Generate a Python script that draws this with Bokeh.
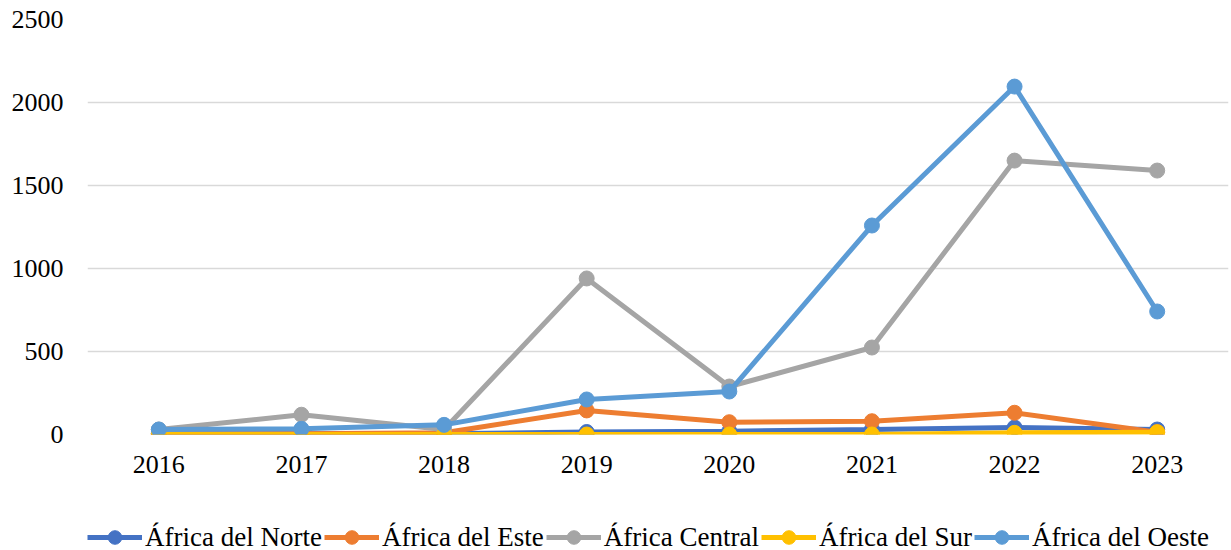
from bokeh.plotting import figure
from bokeh.layouts import column
from bokeh.models import Legend, LegendItem, FactorRange, Range1d, FixedTicker
from bokeh.embed import file_html
from bokeh.resources import INLINE

years = ["2016", "2017", "2018", "2019", "2020", "2021", "2022", "2023"]
norte = [5, 5, 5, 15, 20, 30, 42, 30]
este = [5, 5, 10, 145, 74, 80, 131, 14]
central = [30, 119, 30, 940, 289, 524, 1650, 1590]
sur = [0, 0, 0, 0, 0, 0, 10, 14]
oeste = [30, 34, 58, 211, 259, 1259, 2096, 741]
y_ticks = [0, 500, 1000, 1500, 2000, 2500]

series = [
    ("África del Norte", norte, "#4472C4"),
    ("África del Este", este, "#ED7D31"),
    ("África Central", central, "#A5A5A5"),
    ("África del Sur", sur, "#FFC000"),
    ("África del Oeste", oeste, "#5B9BD5"),
]

FONT = "Liberation Serif"

p = figure(width=1231, height=490, x_range=FactorRange(*years), y_range=Range1d(0, 2500),
           output_backend="svg", toolbar_location=None,
           min_border_left=87, min_border_right=3, min_border_top=19, min_border_bottom=56)
p.outline_line_color = None
p.xgrid.grid_line_color = None
p.ygrid.grid_line_color = "#D9D9D9"
p.ygrid.grid_line_width = 1.5
p.yaxis.ticker = FixedTicker(ticks=y_ticks)
for ax in (p.xaxis[0], p.yaxis[0]):
    ax.axis_line_color = None
    ax.major_tick_line_color = None
    ax.minor_tick_line_color = None
    ax.major_label_text_font = FONT
    ax.major_label_text_font_size = "26px"
    ax.major_label_text_color = "black"
p.yaxis.major_label_standoff = 18
p.xaxis.major_label_standoff = 15

for name, vals, col in series:
    p.line(years, vals, line_color=col, line_width=5)
    p.scatter(years, vals, size=15, fill_color=col, line_color=col)

# legend strip below the chart; the series are drawn again here but fall
# outside this strip's y range, so only their legend glyphs are visible
pl = figure(width=1231, height=60, x_range=FactorRange(*years), y_range=Range1d(-2, -1),
            output_backend="svg", toolbar_location=None,
            x_axis_location=None, y_axis_location=None,
            min_border_left=0, min_border_right=0, min_border_top=0, min_border_bottom=0)
pl.outline_line_color = None
pl.grid.grid_line_color = None
items = []
for name, vals, col in series:
    r1 = pl.line(years, vals, line_color=col, line_width=5)
    r2 = pl.scatter(years, vals, size=15, fill_color=col, line_color=col)
    items.append(LegendItem(label=name, renderers=[r1, r2]))

legend = Legend(items=items, orientation="horizontal", location=(0, -4),
                label_text_font=FONT, label_text_font_size="27px", label_text_color="black",
                glyph_width=55, glyph_height=34, label_standoff=3, spacing=2,
                padding=0, margin=0, border_line_color=None, background_fill_alpha=0)
pl.add_layout(legend, "center")

layout = column(p, pl)
open("out.html", "w").write(file_html(layout, INLINE))
